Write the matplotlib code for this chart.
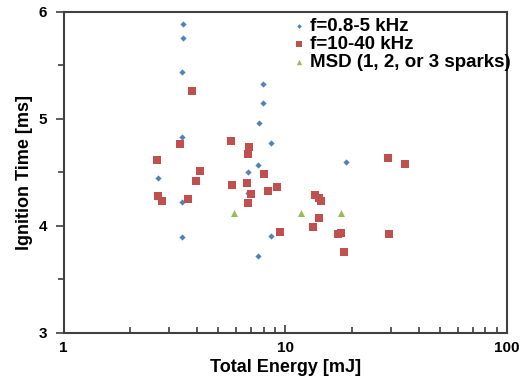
import matplotlib
matplotlib.use("Agg")
import matplotlib.pyplot as plt
from matplotlib.ticker import FixedLocator, MultipleLocator, NullFormatter

plt.rcParams['font.family'] = ['Liberation Sans', 'DejaVu Sans']
plt.rcParams['font.weight'] = 'bold'

# f=0.8-5 kHz
low_energy = [3.45, 3.45, 3.42, 3.42, 2.68, 3.41, 3.41, 7.91, 7.91, 7.61,
              8.63, 7.56, 6.77, 6.77, 8.63, 7.51, 18.9]
low_time = [5.885, 5.754, 5.44, 4.825, 4.447, 4.217, 3.89, 5.32, 5.143, 4.96,
            4.775, 4.57, 4.50, 4.30, 3.905, 3.72, 4.59]

# f=10-40 kHz
high_energy = [3.79, 3.36, 2.65, 4.14, 3.97, 2.68, 2.79, 3.64, 5.71, 6.86,
               6.79, 8.00, 6.70, 5.77, 9.18, 8.36, 7.03, 6.77, 9.50, 13.6,
               14.2, 14.5, 14.2, 13.4, 17.3, 17.9, 18.5, 29.0, 34.8, 29.3]
high_time = [5.26, 4.76, 4.61, 4.51, 4.42, 4.276, 4.23, 4.245, 4.79, 4.737,
             4.67, 4.48, 4.40, 4.38, 4.357, 4.32, 4.295, 4.213, 3.94, 4.29,
             4.26, 4.232, 4.067, 3.983, 3.92, 3.933, 3.755, 4.634, 4.58, 3.923]

# MSD (1, 2, or 3 sparks)
msd_energy = [5.87, 11.8, 17.8]
msd_time = [4.12, 4.12, 4.12]

x_ticks = [1, 10, 100]
y_ticks = [3, 4, 5, 6]

blue = '#4F81BD'
red = '#C0504D'
green = '#9BBB59'
spine_color = '#404040'

fig = plt.figure(figsize=(5.28, 3.87), dpi=100)
ax = fig.add_axes([0.1203, 0.1408, 0.8397, 0.829])

ax.scatter(low_energy, low_time, marker='D', s=10, color=blue, lw=0,
           label='f=0.8-5 kHz', zorder=3)
ax.scatter(high_energy, high_time, marker='s', s=30, color=red, lw=0,
           label='f=10-40 kHz', zorder=3)
ax.scatter(msd_energy, msd_time, marker='^', s=26, color=green, lw=0,
           label='MSD (1, 2, or 3 sparks)', zorder=3)

ax.set_xscale('log')
ax.set_xlim(1, 100)
ax.set_ylim(3, 6)
ax.xaxis.set_major_locator(FixedLocator(x_ticks))
ax.set_xticklabels([str(t) for t in x_ticks])
ax.xaxis.set_minor_formatter(NullFormatter())
ax.yaxis.set_major_locator(FixedLocator(y_ticks))
ax.yaxis.set_minor_locator(MultipleLocator(0.5))

ax.tick_params(axis='x', which='both', direction='in', labelsize=11,
               color=spine_color, width=1.2, pad=6)
ax.tick_params(axis='x', which='major', length=6)
ax.tick_params(axis='x', which='minor', length=4)
ax.tick_params(axis='y', which='both', direction='out', labelsize=11,
               color=spine_color, width=1.2, pad=6)
ax.tick_params(axis='y', which='major', length=6)
ax.tick_params(axis='y', which='minor', length=4)

for sp in ax.spines.values():
    sp.set_color(spine_color)
    sp.set_linewidth(1.5)

ax.set_xlabel('Total Energy [mJ]', fontsize=13, fontweight='bold', labelpad=3)
ax.set_ylabel('Ignition Time [ms]', fontsize=13, fontweight='bold', labelpad=4)

ax.legend(loc='upper right', frameon=False, fontsize=13.5, handletextpad=0.1,
          labelspacing=0.05, markerscale=0.75, borderpad=0, handlelength=0.9,
          bbox_to_anchor=(0.984, 0.979), bbox_transform=fig.transFigure)

fig.savefig('out.png', dpi=100)
